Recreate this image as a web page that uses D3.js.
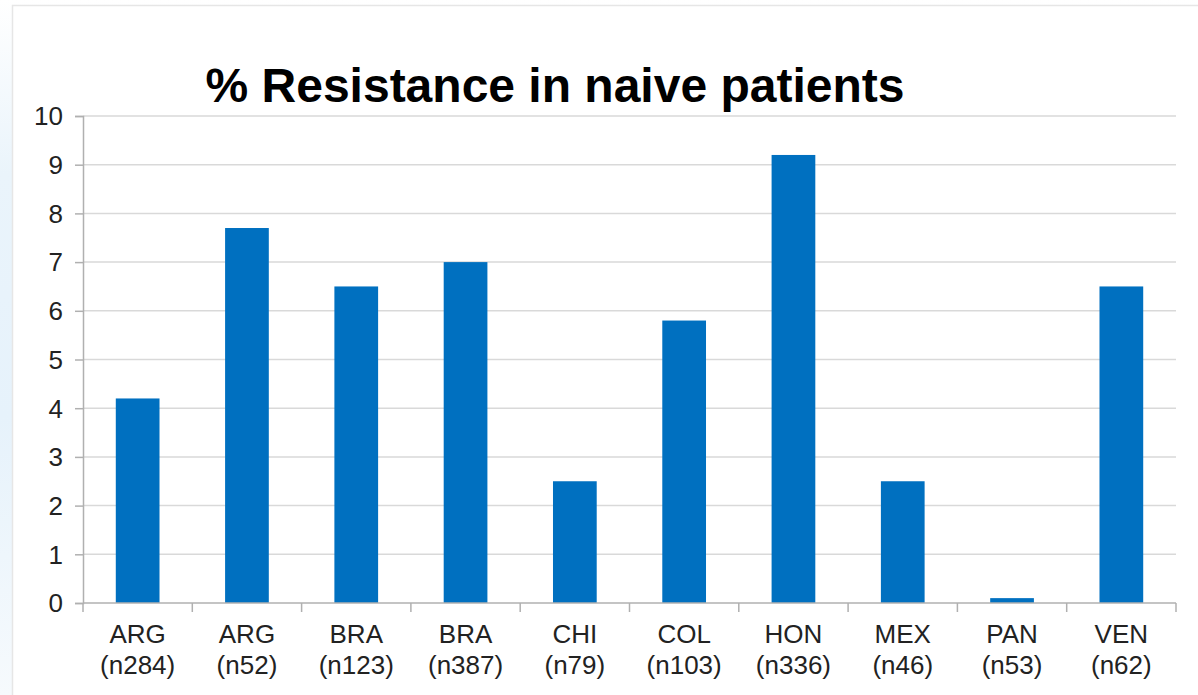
<!DOCTYPE html>
<html>
<head>
<meta charset="utf-8">
<script src="https://cdn.jsdelivr.net/npm/d3@7"></script>
<style>
  html, body { margin: 0; padding: 0; background: #fff; }
  svg { display: block; }
</style>
</head>
<body>
<svg id="chart" width="1198" height="695"></svg>
<script>
// Data
const countries = ["ARG", "ARG", "BRA", "BRA", "CHI", "COL", "HON", "MEX", "PAN", "VEN"];
const sampleSizes = ["(n284)", "(n52)", "(n123)", "(n387)", "(n79)", "(n103)", "(n336)", "(n46)", "(n53)", "(n62)"];
const resistance = [4.2, 7.7, 6.5, 7.0, 2.5, 5.8, 9.2, 2.5, 0.1, 6.5];
const yTicks = [0, 1, 2, 3, 4, 5, 6, 7, 8, 9, 10];
const title = "% Resistance in naive patients";

const W = 1198, H = 695;
const plot = { left: 83, right: 1176, top: 116, bottom: 603 };
const font = "'Liberation Sans', Arial, sans-serif";

const svg = d3.select("#chart");

// Soft blue backdrop on the far left edge
const defs = svg.append("defs");
const grad = defs.append("linearGradient").attr("id", "edge").attr("x1", 0).attr("y1", 0).attr("x2", 0).attr("y2", 1);
grad.append("stop").attr("offset", "0").attr("stop-color", "#ffffff");
grad.append("stop").attr("offset", "0.25").attr("stop-color", "#eaf4fb");
grad.append("stop").attr("offset", "0.6").attr("stop-color", "#e6f2fb");
grad.append("stop").attr("offset", "1").attr("stop-color", "#f6fafd");
svg.append("rect").attr("x", 0).attr("y", 0).attr("width", W).attr("height", H).attr("fill", "url(#edge)");

// Chart frame
svg.append("rect")
  .attr("x", 12.5).attr("y", 5.5).attr("width", W).attr("height", H)
  .attr("fill", "#fff").attr("stroke", "#e6e6e6").attr("stroke-width", 1.5);

const x = d3.scaleBand().domain(d3.range(countries.length)).range([plot.left, plot.right]).paddingInner(0).paddingOuter(0);
const y = d3.scaleLinear().domain([0, 10]).range([plot.bottom, plot.top]);

// Gridlines
svg.append("g").selectAll("line").data(yTicks.filter(d => d > 0)).join("line")
  .attr("x1", plot.left).attr("x2", plot.right)
  .attr("y1", d => y(d)).attr("y2", d => y(d))
  .attr("stroke", "#d9d9d9").attr("stroke-width", 1.5);

// Y axis
const yAxis = d3.axisLeft(y).tickValues(yTicks).tickSize(8).tickPadding(12).tickFormat(d3.format("d"));
const gy = svg.append("g").attr("transform", `translate(${plot.left},0)`).call(yAxis);
gy.select(".domain").attr("stroke", "#b0b0b0").attr("stroke-width", 1.5);
gy.selectAll(".tick line").attr("stroke", "#b0b0b0").attr("stroke-width", 1.5);
gy.selectAll(".tick text").attr("font-family", font).attr("font-size", 26).attr("fill", "#222").attr("dy", "0.34em");

// Bars
const barW = x.bandwidth() * 0.4;
svg.append("g").selectAll("rect").data(resistance).join("rect")
  .attr("x", (d, i) => x(i) + (x.bandwidth() - barW) / 2)
  .attr("width", barW)
  .attr("y", d => y(d))
  .attr("height", d => y(0) - y(d))
  .attr("fill", "#0070c0");

// X axis with boundary ticks between categories
const gx = svg.append("g").attr("transform", `translate(0,${plot.bottom})`);
gx.append("line").attr("x1", plot.left).attr("x2", plot.right).attr("stroke", "#b0b0b0").attr("stroke-width", 1.5);
const bounds = d3.range(countries.length + 1).map(i => i < countries.length ? x(i) : plot.right);
gx.selectAll("line.bt").data(bounds).join("line").attr("class", "bt")
  .attr("x1", d => d).attr("x2", d => d).attr("y1", 0).attr("y2", 9)
  .attr("stroke", "#b0b0b0").attr("stroke-width", 1.5);

// Category labels (two lines)
const labels = svg.append("g").attr("font-family", font).attr("font-size", 26).attr("fill", "#222").attr("text-anchor", "middle");
labels.selectAll("text.c").data(countries).join("text").attr("class", "c")
  .attr("x", (d, i) => x(i) + x.bandwidth() / 2).attr("y", 643).text(d => d);
labels.selectAll("text.n").data(sampleSizes).join("text").attr("class", "n")
  .attr("x", (d, i) => x(i) + x.bandwidth() / 2).attr("y", 674).text(d => d);

// Title
svg.append("text").attr("x", 555).attr("y", 102).attr("text-anchor", "middle")
  .attr("font-family", font).attr("font-weight", "bold").attr("font-size", 48).attr("fill", "#000")
  .text(title);
</script>
</body>
</html>
